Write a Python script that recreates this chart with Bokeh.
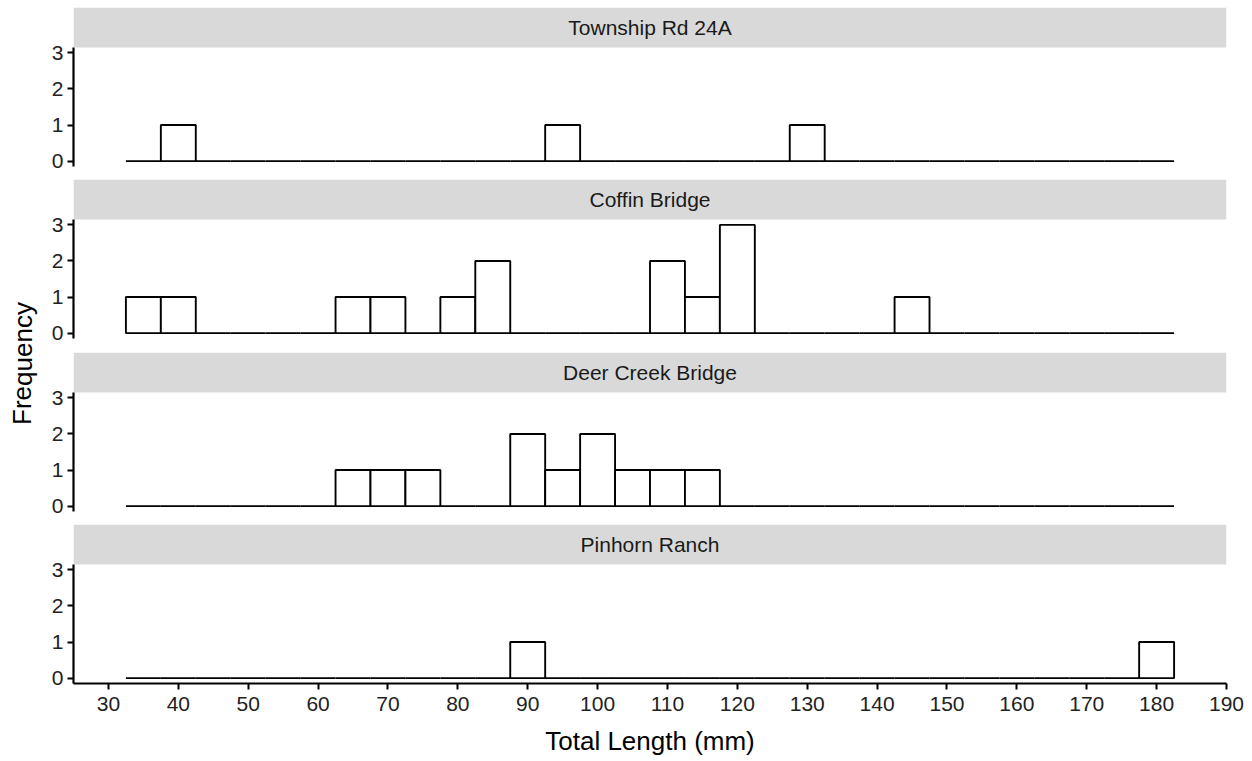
from bokeh.plotting import figure
from bokeh.layouts import column, row
from bokeh.models import Range1d, FixedTicker
from bokeh.core.properties import value
from bokeh.embed import file_html
from bokeh.resources import INLINE

# ---- data (histogram counts, bin width 5 mm) ----
bin_centers = [35, 40, 45, 50, 55, 60, 65, 70, 75, 80, 85, 90, 95, 100, 105,
               110, 115, 120, 125, 130, 135, 140, 145, 150, 155, 160, 165, 170, 175, 180]
sites = ["Township Rd 24A", "Coffin Bridge", "Deer Creek Bridge", "Pinhorn Ranch"]
township_counts = [0, 1, 0, 0, 0, 0, 0, 0, 0, 0, 0, 0, 1, 0, 0,
                   0, 0, 0, 0, 1, 0, 0, 0, 0, 0, 0, 0, 0, 0, 0]
coffin_counts = [1, 1, 0, 0, 0, 0, 1, 1, 0, 1, 2, 0, 0, 0, 0,
                 2, 1, 3, 0, 0, 0, 0, 1, 0, 0, 0, 0, 0, 0, 0]
deer_counts = [0, 0, 0, 0, 0, 0, 1, 1, 1, 0, 0, 2, 1, 2, 1,
               1, 1, 0, 0, 0, 0, 0, 0, 0, 0, 0, 0, 0, 0, 0]
pinhorn_counts = [0, 0, 0, 0, 0, 0, 0, 0, 0, 0, 0, 1, 0, 0, 0,
                  0, 0, 0, 0, 0, 0, 0, 0, 0, 0, 0, 0, 0, 0, 1]
all_counts = [township_counts, coffin_counts, deer_counts, pinhorn_counts]
x_ticks = [30, 40, 50, 60, 70, 80, 90, 100, 110, 120, 130, 140, 150, 160, 170, 180, 190]
y_ticks = [0, 1, 2, 3]
x_title = "Total Length (mm)"
y_title = "Frequency"
bin_width = 5

FONT = "Liberation Sans"
STRIP_FILL = "#D9D9D9"
TEXT_COL = "#1A1A1A"
TICK_COL = "#222222"

X0, X1 = 25, 190
Y0, Y1 = -0.15, 3.15
PANEL_H = 119
STRIP_H = 40
FRAME_H = PANEL_H + STRIP_H
YTOP = Y0 + (Y1 - Y0) * FRAME_H / PANEL_H

LEFT_W = 48
FIG_W = 1196
BL, BR = 25, 18
tops = [7, 0, 0, 0]
bottoms = [13, 14, 13, 75]

figs = []
for i, (site, counts) in enumerate(zip(sites, all_counts)):
    last = (i == 3)
    p = figure(width=FIG_W, height=tops[i] + FRAME_H + bottoms[i],
               x_range=Range1d(X0, X1), y_range=Range1d(Y0, YTOP),
               output_backend="svg", toolbar_location=None,
               x_axis_location="below" if last else None,
               min_border_left=BL, min_border_right=BR, min_border_top=tops[i],
               min_border_bottom=bottoms[i])
    p.grid.visible = False
    p.outline_line_color = None
    # facet strip
    p.quad(left=[X0], right=[X1], bottom=[Y1], top=[YTOP],
           fill_color=STRIP_FILL, line_color=None)
    p.text(x=[(X0 + X1) / 2], y=[(Y1 + YTOP) / 2], text=[site], text_align="center",
           text_baseline="middle", text_font=value(FONT), text_font_size="21px",
           text_color=TEXT_COL)
    # histogram
    lefts = [c - bin_width / 2 for c in bin_centers]
    rights = [c + bin_width / 2 for c in bin_centers]
    p.quad(left=lefts, right=rights, bottom=0, top=counts,
           fill_color="white", line_color="black", line_width=1.9)
    for ax in p.yaxis:
        ax.ticker = FixedTicker(ticks=y_ticks)
        ax.bounds = (Y0, Y1)
        ax.major_label_standoff = 4
    if last:
        for ax in p.xaxis:
            ax.ticker = FixedTicker(ticks=x_ticks)
            ax.axis_label = x_title
            ax.axis_label_text_font = FONT
            ax.axis_label_text_font_size = "26px"
            ax.axis_label_text_font_style = "normal"
            ax.axis_label_text_color = "black"
            ax.axis_label_standoff = 12
            ax.major_label_standoff = 7
    for ax in p.axis:
        ax.axis_line_color = "black"
        ax.axis_line_width = 2.2
        ax.major_tick_line_color = "black"
        ax.major_tick_line_width = 2
        ax.major_tick_out = 6
        ax.major_tick_in = 0
        ax.minor_tick_line_color = None
        ax.major_label_text_font = FONT
        ax.major_label_text_font_size = "21px"
        ax.major_label_text_color = TICK_COL
    figs.append(p)

total_h = sum(f.height for f in figs)
lab = figure(width=LEFT_W, height=total_h, x_range=Range1d(0, LEFT_W), y_range=Range1d(0, total_h),
             output_backend="svg", toolbar_location=None,
             x_axis_location=None, y_axis_location=None, min_border=0)
lab.grid.visible = False
lab.outline_line_color = None
lab.text(x=[22], y=[total_h - 363], text=[y_title], angle=1.5707963, text_align="center",
         text_baseline="middle", text_font=value(FONT), text_font_size="26px", text_color="black")

layout = row(lab, column(*figs, spacing=0), spacing=0)
open("out.html", "w").write(file_html(layout, INLINE))
